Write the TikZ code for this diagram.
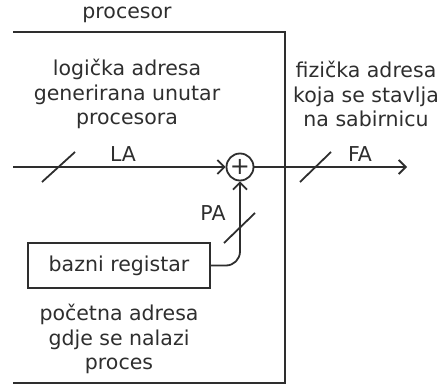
\documentclass[tikz,border=0pt]{standalone}
\usepackage{fontspec}
\setmainfont{DejaVu Sans}
\usetikzlibrary{arrows.meta}
\definecolor{ink}{HTML}{2E2E2E}
\tikzset{
  wire/.style={draw=ink, line width=1.8pt},
  tip/.style={-{Straight Barb[length=7pt,width=14pt,line width=1.8pt]}},
  lbl/.style={text=ink, font=\fontsize{20.5}{24.5}\selectfont, align=center, inner sep=0pt},
  regbox/.style={draw=ink, line width=1.8pt, minimum width=182pt, minimum height=45pt, inner sep=0pt},
  adder/.style={draw=ink, line width=1.8pt, circle, minimum size=27pt, inner sep=0pt, text=ink, font=\fontsize{24}{24}\selectfont}
}
\begin{document}
\begin{tikzpicture}[x=1pt,y=-1pt]
\useasboundingbox (0,0) rectangle (448,385);
% processor frame
\draw[wire] (13,32) -- (285,32) -- (285,383) -- (13,383);
\node[lbl] (proc) at (127,15) {procesor};
\node[lbl] (la-txt) at (127,94) {logička adresa\\generirana unutar\\procesora};
\node[lbl] (fa-txt) at (366,94) {fizička adresa\\koja se stavlja\\na sabirnicu};
\node[lbl] (pa-txt) at (119,339) {početna adresa\\gdje se nalazi\\proces};
% adder
\node[adder] (plus) at (240,167) {+};
\coordinate (in) at (13,167);
\coordinate (out) at (407,167);
\draw[wire,tip] (in) -- (plus.west);
\draw[wire,tip] (plus.east) -- (out);
% register
\node[regbox, lbl, draw=ink] (reg) at (119,265.5) {bazni registar};
\draw[wire,tip,rounded corners=14pt] (reg.east) -| (plus.south);
% bus slashes
\draw[wire] (42,182) -- (75,152);
\draw[wire] (300,182) -- (331,152);
\draw[wire] (224,243) -- (255,213);
% labels
\node[lbl] (la) at (123,154) {LA};
\node[lbl] (fa) at (360,154) {FA};
\node[lbl] (pa) at (213,213) {PA};
\end{tikzpicture}
\end{document}
